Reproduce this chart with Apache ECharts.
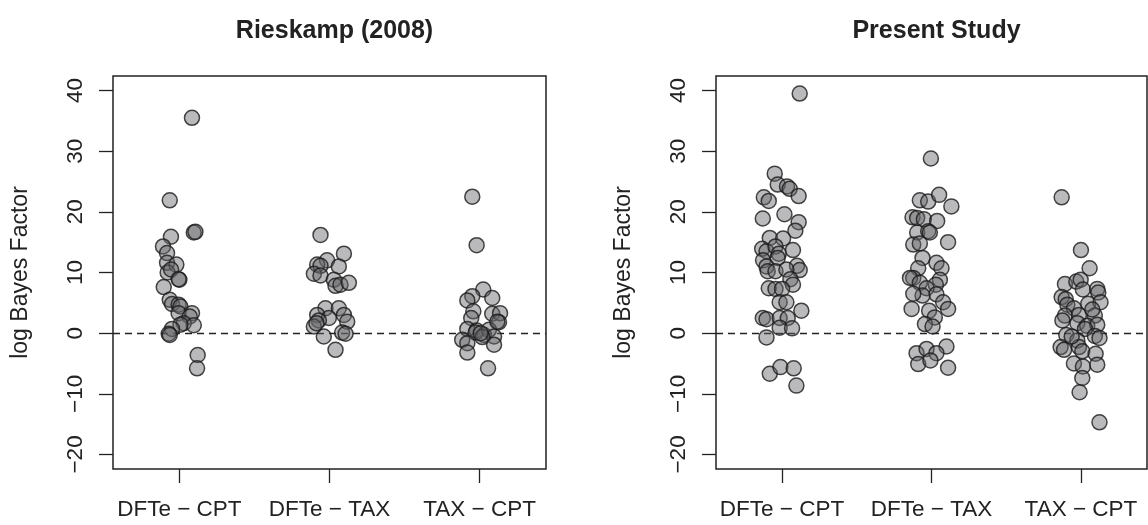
<!DOCTYPE html>
<html>
<head>
<meta charset="utf-8">
<script src="https://cdn.jsdelivr.net/npm/echarts@6/dist/echarts.min.js"></script>
<style>
html,body{margin:0;padding:0;background:#fff;}
#chart{width:1148px;height:525px;}
</style>
</head>
<body>
<div id="chart"></div>
<script>
// ---- Data ----
const categories = ['DFTe \u2212 CPT', 'DFTe \u2212 TAX', 'TAX \u2212 CPT'];
const panelTitles = ['Rieskamp (2008)', 'Present Study'];
const yTicks = [-20, -10, 0, 10, 20, 30, 40];
const xTicks = [1, 2, 3];

// Rieskamp (2008) — log Bayes factors and horizontal jitter offsets
const riesDftCpt = [35.5, 21.9, 15.9, 16.6, 16.7, 14.3, 13.2, 11.6, 11.3, 10.0, 10.5, 8.8, 8.9, 7.6, 5.5, 4.8, 4.7, 4.4, 3.3, 3.3, 2.75, 1.65, 1.3, 1.4, 0.7, -0.1, -0.3, -3.6, -5.8];
const riesDftCptJit = [0.084, -0.064, -0.056, 0.096, 0.107, -0.109, -0.082, -0.082, -0.02, -0.078, -0.055, 0.0, -0.005, -0.104, -0.064, -0.049, -0.005, 0.007, -0.005, 0.084, 0.069, 0.029, 0.096, 0.007, -0.049, -0.071, -0.064, 0.122, 0.118];

const riesDftTax = [16.2, 13.1, 12.0, 11.3, 11.1, 11.0, 9.8, 9.5, 8.8, 7.8, 8.0, 8.3, 4.1, 4.1, 3.0, 3.0, 2.5, 2.1, 1.9, 1.1, 1.65, -0.55, 0.1, -0.1, -2.75];
const riesDftTaxJit = [-0.06, 0.096, -0.016, -0.082, -0.06, 0.062, -0.104, -0.06, 0.029, 0.04, 0.073, 0.129, -0.027, 0.062, -0.082, 0.096, -0.004, -0.071, 0.118, -0.104, -0.087, -0.038, 0.084, 0.107, 0.04];

const riesTaxCpt = [22.5, 14.5, 7.2, 6.1, 5.4, 5.8, 3.6, 2.5, 3.2, 3.3, 1.8, 0.7, 0.45, 0.1, -0.3, 0.55, -0.55, -1.1, -1.65, -0.65, -3.2, -1.9, -5.8, 0.0, 1.9];
const riesTaxCptJit = [-0.049, -0.02, 0.024, -0.049, -0.082, 0.084, -0.042, -0.056, 0.084, 0.136, 0.129, -0.082, -0.02, -0.027, 0.029, 0.062, 0.096, -0.116, -0.082, 0.018, -0.082, 0.096, 0.056, 0.007, 0.118];

// Present Study
const presDftCpt = [39.5, 26.3, 24.5, 24.2, 23.8, 22.4, 21.8, 22.6, 18.9, 19.6, 18.3, 16.9, 15.7, 15.6, 13.9, 13.5, 13.7, 14.3, 13.1, 12.0, 12.4, 11.0, 11.1, 10.2, 10.2, 10.4, 10.5, 8.9, 8.0, 7.4, 7.3, 7.3, 5.1, 5.1, 3.7, 2.5, 2.3, 2.5, 2.5, 0.9, 0.8, -0.7, -6.7, -5.6, -5.8, -8.65];
const presDftCptJit = [0.118, -0.049, -0.029, 0.033, 0.051, -0.122, -0.089, 0.111, -0.129, 0.016, 0.111, 0.089, -0.082, 0.007, -0.133, -0.104, 0.073, -0.044, -0.022, -0.127, -0.029, -0.104, 0.1, -0.096, -0.044, 0.118, 0.029, 0.056, 0.073, -0.089, -0.044, 0.0, -0.016, 0.029, 0.129, -0.129, -0.104, -0.016, 0.038, -0.016, 0.067, -0.104, -0.082, -0.011, 0.078, 0.096];

const presDftTax = [28.8, 21.9, 21.7, 22.8, 20.9, 19.1, 19.0, 18.8, 18.5, 16.6, 16.8, 16.6, 15.0, 14.6, 14.8, 12.4, 11.6, 10.7, 10.7, 9.1, 9.1, 8.3, 8.8, 8.0, 7.4, 6.4, 6.2, 6.5, 5.1, 4.0, 4.0, 3.7, 2.6, 1.5, 1.1, -2.2, -3.3, -2.6, -3.3, -5.1, -4.5, -5.7];
const presDftTaxJit = [-0.004, -0.078, -0.022, 0.051, 0.133, -0.127, -0.096, -0.051, 0.038, -0.096, -0.022, -0.011, 0.111, -0.122, -0.078, -0.060, 0.033, 0.067, -0.089, -0.122, -0.144, -0.078, 0.056, 0.029, -0.033, 0.033, -0.060, -0.122, 0.078, 0.111, -0.133, -0.016, 0.022, -0.044, 0.007, 0.100, -0.100, -0.033, 0.033, -0.089, -0.007, 0.111];

const presTaxCpt = [22.4, 13.7, 10.7, 8.1, 8.5, 8.8, 7.2, 7.3, 6.7, 5.95, 5.6, 4.7, 4.85, 5.1, 4.1, 2.9, 2.9, 3.0, 1.65, 1.2, 2.1, 1.4, -0.3, 0.7, -0.45, -0.8, -1.2, -2.3, -2.75, -2.3, -3.0, -3.4, -5.0, -5.5, -5.2, -7.4, -9.75, -14.7, -0.55, 3.9];
const presTaxCptJit = [-0.129, 0.0, 0.058, -0.107, -0.031, -0.002, 0.013, 0.109, 0.116, -0.129, -0.102, -0.091, 0.049, 0.131, -0.047, 0.093, -0.107, -0.013, -0.024, 0.042, -0.124, 0.109, -0.098, 0.027, 0.093, 0.124, -0.024, -0.136, -0.113, -0.013, 0.009, 0.098, -0.047, 0.013, 0.109, 0.009, -0.009, 0.124, -0.062, 0.076];

// ---- Build ----
function pts(vals, jit, cat) {
  return vals.map((v, i) => [cat + jit[i], v]);
}
const panels = [
  [pts(riesDftCpt, riesDftCptJit, 1), pts(riesDftTax, riesDftTaxJit, 2), pts(riesTaxCpt, riesTaxCptJit, 3)],
  [pts(presDftCpt, presDftCptJit, 1), pts(presDftTax, presDftTaxJit, 2), pts(presTaxCpt, presTaxCptJit, 3)]
];

const FONT = '"Liberation Sans", Arial, Helvetica, sans-serif';
const INK = '#222';
const FS = 22.5;
const grids = [
  {left: 113, top: 76, width: 433, height: 393},
  {left: 716, top: 76, width: 431, height: 393}
];

const option = {
  animation: false,
  backgroundColor: '#fff',
  title: panelTitles.map((t, i) => ({
    text: t,
    left: grids[i].left + grids[i].width / 2,
    top: 14,
    textAlign: 'center',
    textStyle: {fontFamily: FONT, fontWeight: 'bold', fontSize: 25, color: INK}
  })),
  grid: grids.map(g => Object.assign({show: true, borderColor: INK, borderWidth: 1.5, backgroundColor: 'transparent'}, g)),
  xAxis: grids.map((g, i) => ({
    type: 'value', gridIndex: i, min: 0.558, max: 3.442, position: 'bottom',
    axisLine: {show: false, onZero: false},
    splitLine: {show: false},
    axisTick: {show: true, customValues: xTicks, length: 14, lineStyle: {color: INK, width: 1.3}},
    axisLabel: {show: true, customValues: xTicks, margin: 29, fontFamily: FONT, fontSize: FS, color: INK,
      formatter: v => categories[Math.round(v) - 1] || ''}
  })),
  yAxis: grids.map((g, i) => ({
    type: 'value', gridIndex: i, min: -22.4, max: 42.4, position: 'left',
    name: 'log Bayes Factor', nameLocation: 'middle', nameGap: 81, nameRotate: 90,
    nameTextStyle: {fontFamily: FONT, fontSize: 23, color: INK},
    axisLine: {show: false, onZero: false},
    splitLine: {show: false},
    axisTick: {show: true, customValues: yTicks, length: 14, lineStyle: {color: INK, width: 1.3}},
    axisLabel: {show: true, customValues: yTicks, rotate: 90, margin: 26, fontFamily: FONT, fontSize: FS, color: INK,
      formatter: v => (v < 0 ? '\u2212' + Math.abs(v) : String(v))}
  })),
  series: []
};

panels.forEach((groups, pi) => {
  groups.forEach((data, gi) => {
    const s = {
      type: 'scatter', xAxisIndex: pi, yAxisIndex: pi, data: data,
      symbol: 'circle', symbolSize: 15, z: 3,
      itemStyle: {color: 'rgba(100,100,106,0.56)', borderColor: '#1a1a1a', borderWidth: 1.5}
    };
    if (gi === 0) {
      s.markLine = {
        silent: true, symbol: 'none', z: 2,
        label: {show: false},
        lineStyle: {type: [7, 5], color: INK, width: 1.3},
        data: [{yAxis: 0}]
      };
    }
    option.series.push(s);
  });
});

const chart = echarts.init(document.getElementById('chart'), null, {renderer: 'canvas'});
chart.setOption(option);
</script>
</body>
</html>
